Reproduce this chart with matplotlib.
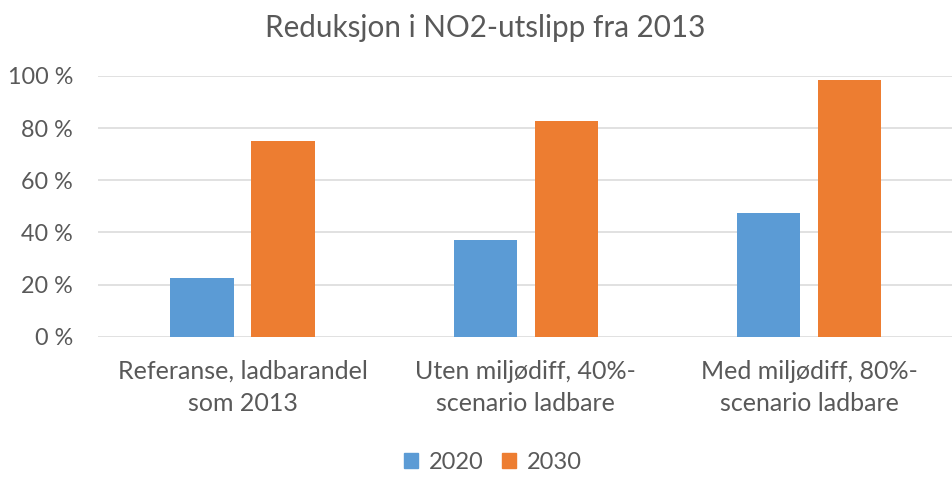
import numpy as np
import matplotlib
matplotlib.use("Agg")
import matplotlib.pyplot as plt
import matplotlib.patches as mpatches
from matplotlib.ticker import FuncFormatter

plt.rcParams["font.family"] = ["Lato", "DejaVu Sans"]

# ── Data ─────────────────────────────────────────────────────────────────────
categories = ["Referanse, ladbarandel\nsom 2013",
              "Uten miljødiff, 40%-\nscenario ladbare",
              "Med miljødiff, 80%-\nscenario ladbare"]
series_names = ["2020", "2030"]
values_2020 = [22.4, 37.2, 47.3]
values_2030 = [75.2, 82.7, 98.5]
y_ticks = [0, 20, 40, 60, 80, 100]

COLORS = {"2020": "#5B9BD5", "2030": "#ED7D31"}
TEXT = "#595959"

fig = plt.figure(figsize=(9.52, 4.86), dpi=100)
ax = fig.add_axes([98 / 952, 1 - 336.7 / 486, 1 - 98 / 952, (336.7 - 76) / 486])

x = np.arange(len(categories))
w = 0.223
off = 0.143
ax.bar(x - off, values_2020, w, color=COLORS["2020"], zorder=3)
ax.bar(x + off, values_2030, w, color=COLORS["2030"], zorder=3)

ax.set_xlim(-0.51, 2.505)
ax.set_ylim(0, 100)
ax.set_yticks(y_ticks)
ax.yaxis.set_major_formatter(FuncFormatter(lambda v, p: f"{v:.0f} %"))
ax.grid(axis="y", color="#D9D9D9", linewidth=1.1, zorder=0)
for s in ax.spines.values():
    s.set_visible(False)
ax.tick_params(axis="both", length=0, colors=TEXT)
ax.tick_params(axis="y", pad=18, labelsize=16.8)
ax.tick_params(axis="x", pad=16.5, labelsize=18)
ax.set_xticks(x)
ax.set_xticklabels(categories, linespacing=1.5)

fig.text(0.51, 1 - 28 / 486, "Reduksjon i NO2-utslipp fra 2013",
         ha="center", va="center", fontsize=21.3, color=TEXT)

handles = [mpatches.Patch(color=COLORS[n], label=n) for n in series_names]
fig.legend(handles=handles, loc="center", bbox_to_anchor=(493 / 952, 1 - 462 / 486),
           ncol=2, frameon=False, fontsize=17, labelcolor=TEXT,
           handlelength=0.6, handleheight=0.6, handletextpad=0.45, columnspacing=0.8)

fig.savefig("out.png", dpi=100)
